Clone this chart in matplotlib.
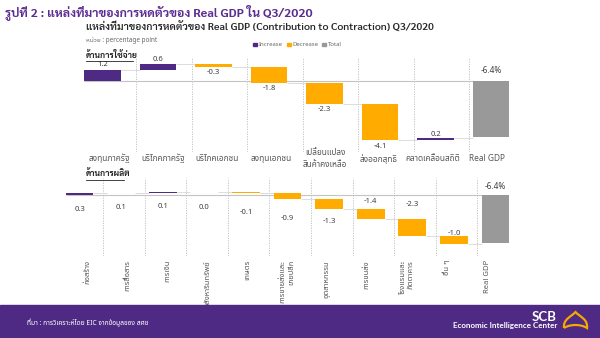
import matplotlib
matplotlib.use("Agg")
import matplotlib.pyplot as plt
from matplotlib.patches import Rectangle, PathPatch
from matplotlib.path import Path
import numpy as np

plt.rcParams["font.family"] = ["Noto Sans Thai UI", "Noto Sans Thai", "Noto Sans", "DejaVu Sans"]
BOLD_FAMILY = ["Sarabun", "IBM Plex Sans Thai", "DejaVu Sans"]
LOGO_FAMILY = ["Lato", "Liberation Sans", "DejaVu Sans"]

# contributions to Real GDP growth, Q3/2020 (percentage point)
exp_labels = ["ลงทุนภาครัฐ", "บริโภคภาครัฐ", "บริโภคเอกชน", "ลงทุนเอกชน",
              "เปลี่ยนแปลง\nสินค้าคงเหลือ", "ส่งออกสุทธิ", "คลาดเคลื่อนสถิติ"]
exp_values = [1.2, 0.6, -0.3, -1.8, -2.3, -4.1, 0.2]

prod_labels = ["ก่อสร้าง", "การสื่อสาร", "การเงิน", "อสังหาริมทรัพย์", "เกษตร",
               "การขายส่งและ\nขายปลีก", "อุตสาหกรรม", "การขนส่ง",
               "โรงแรมและ\nภัตตาคาร", "อื่น ๆ"]
prod_values = [0.3, 0.1, 0.1, 0.0, -0.1, -0.9, -1.3, -1.4, -2.3, -1.0]

total_label = "Real GDP"
total_value = -6.4

PURPLE = "#4F2A84"
ORANGE = "#FFAB00"
GREY = "#999999"
W, H = 600, 338


def px(x, y):
    return x / W, 1 - y / H


def axes_rect(x0, y0, x1, y1):
    return [x0 / W, 1 - y1 / H, (x1 - x0) / W, (y1 - y0) / H]


def waterfall(ax, values, total, width, label_offsets, sep_shift):
    n = len(values)
    ends = np.cumsum(values)
    starts = ends - np.array(values)
    xs = np.arange(n)
    colors = [PURPLE if v >= 0 else ORANGE for v in values]
    ax.bar(xs, values, bottom=starts, width=width, color=colors, zorder=3)
    ax.bar(n, total, width=width, color=GREY, zorder=3)
    # zero line and connectors
    ax.hlines(0, -width / 2, n - width / 2, color="#c4c4c4", lw=0.8, zorder=2)
    for i in range(n):
        ax.hlines(ends[i], i + width / 2, i + 1 - width / 2, color="#dcdcdc", lw=0.7, zorder=2)
    # dotted separators
    lo, hi = ax.get_ylim()
    for i in range(1, n + 1):
        ax.vlines(i - width / 2 - sep_shift, lo, hi, color="#bdbdbd", lw=0.6,
                  linestyles=(0, (1.5, 1.5)), zorder=1)
    # value labels
    for i, v in enumerate(values):
        off = label_offsets[i]
        y = max(starts[i], ends[i]) if off > 0 else min(starts[i], ends[i])
        ax.annotate("%.1f" % v, (i, y), xytext=(0, off), textcoords="offset points",
                    ha="center", va="center", fontsize=5.5, color="#404040", zorder=4)
    ax.annotate("%.1f%%" % total, (n, 0), xytext=(0, label_offsets[-1]),
                textcoords="offset points", ha="center", va="center",
                fontsize=6, color="#404040", zorder=4)
    ax.set_xticks([])
    ax.set_yticks([])
    for s in ax.spines.values():
        s.set_visible(False)
    ax.patch.set_alpha(0)


fig = plt.figure(figsize=(6, 3.38), dpi=100)

# titles
fig.text(*px(5, 12), "รูปที่ 2 : แหล่งที่มาของการหดตัวของ Real GDP ใน Q3/2020",
         fontsize=8.9, fontweight="bold", color="#5B2C91", va="center", family=BOLD_FAMILY)
fig.text(*px(86, 27), "แหล่งที่มาของการหดตัวของ Real GDP (Contribution to Contraction) Q3/2020",
         fontsize=7.5, fontweight="semibold", color="#262626", va="center", family=BOLD_FAMILY)
fig.text(*px(86, 40), "หน่วย : percentage point", fontsize=4.6, color="#666666", va="center")

# legend
for x, c, t in [(253, PURPLE, "Increase"), (287, ORANGE, "Decrease"), (322, GREY, "Total")]:
    fig.patches.append(Rectangle(px(x, 46), 3.5 / W, 3.5 / H, transform=fig.transFigure,
                                 color=c, figure=fig))
    fig.text(*px(x + 5.5, 44.3), t, fontsize=4.3, color="#666666", va="center")

# expenditure side
fig.text(*px(86, 55), "ด้านการใช้จ่าย", fontsize=6.1, fontweight="bold", color="#222222",
         va="center", family=BOLD_FAMILY)
fig.lines.append(plt.Line2D([86 / W, 133 / W], [1 - 61 / H] * 2, transform=fig.transFigure,
                            color="#222222", lw=0.6))

ax1 = fig.add_axes(axes_rect(77.5, 58, 516, 152))
ax1.set_xlim(-0.45, 7.45)
ax1.set_ylim(-8.03, 2.53)
waterfall(ax1, exp_values, total_value, 0.66,
          [3.5, 3.5, -3.8, -3.8, -4, -4.3, 2.6, 7.3], 0.06)
for i, lab in enumerate(exp_labels + [total_label]):
    ax1.text(i + 0.13 - 0.03 * i, -0.07, lab, transform=ax1.get_xaxis_transform(),
             ha="center", va="center", fontsize=6, color="#595959", linespacing=1.5)

# production side
fig.text(*px(86, 174), "ด้านการผลิต", fontsize=6.1, fontweight="bold", color="#222222",
         va="center", family=BOLD_FAMILY)
fig.lines.append(plt.Line2D([86 / W, 124 / W], [1 - 180 / H] * 2, transform=fig.transFigure,
                            color="#222222", lw=0.6))

ax2 = fig.add_axes(axes_rect(60.8, 178, 514.2, 256))
ax2.set_xlim(-0.45, 10.45)
ax2.set_ylim(-8.18, 2.36)
waterfall(ax2, prod_values, total_value, 0.67,
          [-10.4, -10, -10.4, -11.5, -14.4, -13.7, -9.4, 5, 10.8, 2.2, 6.1], 0.1)
for i, lab in enumerate(prod_labels + [total_label]):
    ax2.text(i * 0.96 + 0.2, -0.05, lab, transform=ax2.get_xaxis_transform(),
             ha="center", va="top", rotation=90, multialignment="right",
             fontsize=5.5, color="#595959", linespacing=1.3)

# footer band
fig.patches.append(Rectangle((0, 0), 1, (H - 305) / H, transform=fig.transFigure,
                             color="#4E2A84", figure=fig, zorder=0))
fig.text(*px(27, 323), "ที่มา : การวิเคราะห์โดย EIC จากข้อมูลของ สศช", fontsize=4.8,
         color="white", va="center")
fig.text(*px(557, 317), "SCB", fontsize=9.5, fontweight="bold", color="white",
         ha="right", va="center", family=LOGO_FAMILY)
fig.text(*px(557, 325.5), "Economic Intelligence Center", fontsize=5.8, fontweight="bold",
         color="white", ha="right", va="center", family=LOGO_FAMILY)

# logo outline
verts = [(564, 328), (563, 319), (571, 317), (575.5, 312),
         (580, 317), (588, 319), (587, 328),
         (581, 324), (570, 324), (564, 328)]
codes = [Path.MOVETO, Path.CURVE4, Path.CURVE4, Path.CURVE4,
         Path.CURVE4, Path.CURVE4, Path.CURVE4,
         Path.CURVE4, Path.CURVE4, Path.CURVE4]
logo = Path([px(x, y) for x, y in verts], codes)
fig.patches.append(PathPatch(logo, transform=fig.transFigure, facecolor="none",
                             edgecolor="#F5A800", lw=1.6, figure=fig))

fig.savefig("out.png", dpi=100)
